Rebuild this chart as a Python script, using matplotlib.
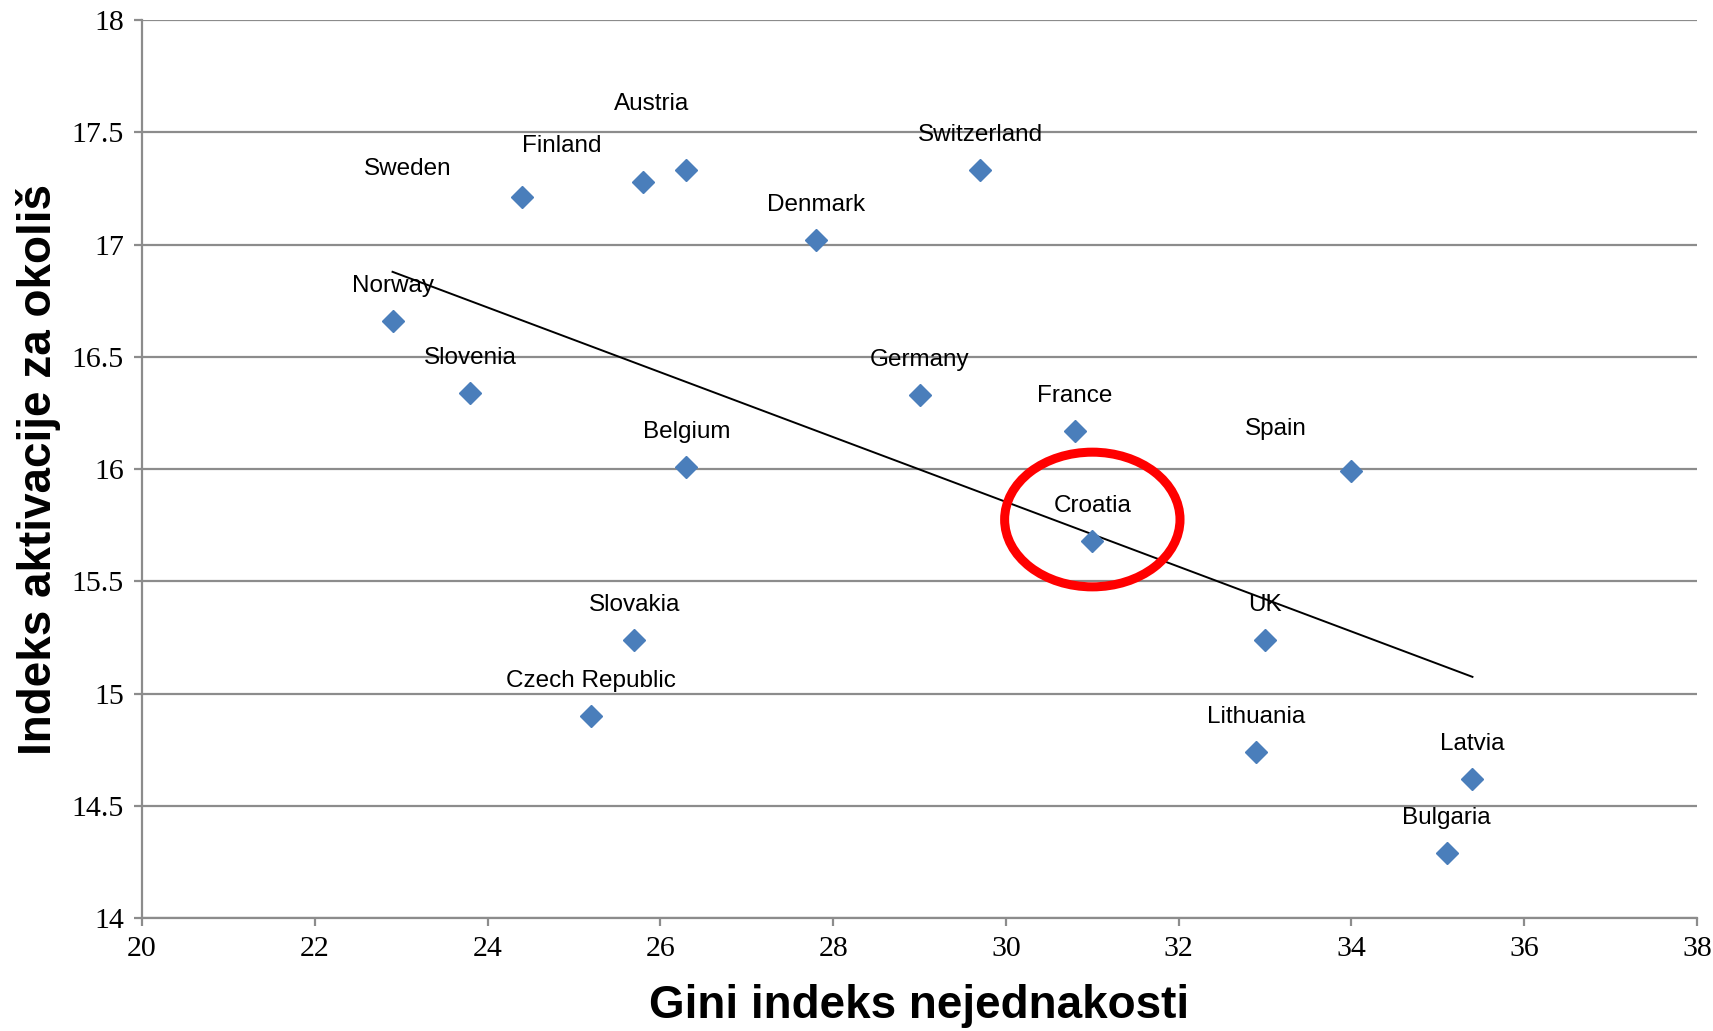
import numpy as np
import matplotlib
matplotlib.use("Agg")
import matplotlib.pyplot as plt
from matplotlib.patches import Ellipse
from matplotlib import font_manager

countries = ["Sweden", "Finland", "Austria", "Denmark", "Switzerland", "Norway",
             "Slovenia", "Germany", "France", "Belgium", "Spain", "Croatia",
             "Slovakia", "UK", "Czech Republic", "Lithuania", "Latvia", "Bulgaria"]
gini = [24.4, 25.8, 26.3, 27.8, 29.7, 22.9,
        23.8, 29.0, 30.8, 26.3, 34.0, 31.0,
        25.7, 33.0, 25.2, 32.9, 35.4, 35.1]
activation = [17.21, 17.28, 17.33, 17.02, 17.33, 16.66,
              16.34, 16.33, 16.17, 16.01, 15.99, 15.68,
              15.24, 15.24, 14.90, 14.74, 14.62, 14.29]
x_ticks = [20, 22, 24, 26, 28, 30, 32, 34, 36, 38]
y_ticks = [14, 14.5, 15, 15.5, 16, 16.5, 17, 17.5, 18]
y_tick_labels = ["14", "14.5", "15", "15.5", "16", "16.5", "17", "17.5", "18"]
x_label = "Gini indeks nejednakosti"
y_label = "Indeks aktivacije za okoliš"
highlight = "Croatia"

# label offsets in pixels (dx, dy) relative to each point
label_offsets = {"Sweden": (-114, 28), "Finland": (-81, 36), "Austria": (-35, 66),
                 "Spain": (-76, 42)}
default_offset = (0, 35)

names = {f.name for f in font_manager.fontManager.ttflist}
narrow = "Liberation Sans Narrow" if "Liberation Sans Narrow" in names else "Liberation Sans"
label_size = 19 if narrow == "Liberation Sans Narrow" else 17.5
title_size = 38 if narrow == "Liberation Sans Narrow" else 33

fig = plt.figure(figsize=(17.13, 10.31), dpi=100)
ax = fig.add_axes([0.0829, 0.1096, 0.9078, 0.871])

ax.set_xlim(20, 38)
ax.set_ylim(14, 18)
ax.set_yticks(y_ticks)
ax.set_yticklabels(y_tick_labels)
ax.set_xticks(x_ticks)
ax.yaxis.grid(True, color="#8c8c8c", linewidth=1.6)
ax.set_axisbelow(True)
for s in ["top", "right"]:
    ax.spines[s].set_visible(False)
for s in ["left", "bottom"]:
    ax.spines[s].set_color("#8c8c8c")
    ax.spines[s].set_linewidth(1.6)
ax.tick_params(axis="both", direction="out", length=6, width=1.6, color="#8c8c8c",
               labelsize=21.5, pad=7)
for lab in ax.get_xticklabels() + ax.get_yticklabels():
    lab.set_fontfamily("Liberation Serif")

# trend line
coef = np.polyfit(gini, activation, 1)
xs = np.array([min(gini), max(gini)])
ax.plot(xs, np.polyval(coef, xs), color="black", linewidth=1.4, zorder=2)

ax.plot(gini, activation, linestyle="none", marker="D", markersize=11,
        color="#4a7ebb", zorder=3)

for name, gx, ay in zip(countries, gini, activation):
    off = label_offsets.get(name, default_offset)
    ax.annotate(name, (gx, ay), xytext=off, textcoords="offset pixels",
                ha="center", va="center", fontsize=label_size, family=narrow, zorder=4)

i = countries.index(highlight)
ell = Ellipse((gini[i], activation[i] + 0.095), width=2.03, height=0.6,
              fill=False, edgecolor="#ff0000", linewidth=6.5, zorder=5)
ax.add_patch(ell)

ax.set_xlabel(x_label, fontsize=title_size, fontweight="bold", family=narrow, labelpad=16)
ax.set_ylabel(y_label, fontsize=title_size, fontweight="bold", family=narrow, labelpad=8)

fig.savefig("out.png", dpi=100)
